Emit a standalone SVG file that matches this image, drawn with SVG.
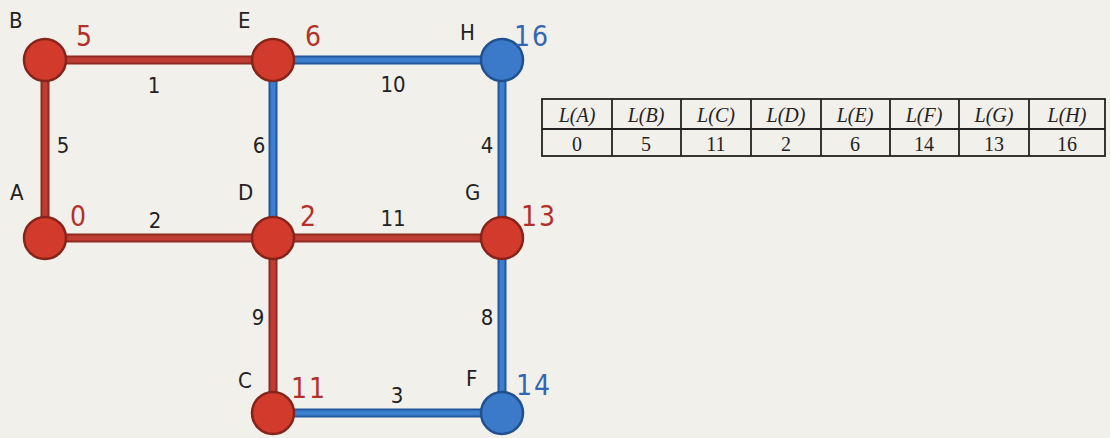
<svg xmlns="http://www.w3.org/2000/svg" width="1110" height="438" viewBox="0 0 1110 438">
<style>
.bg{fill:#f2f0eb}
.er1{stroke:#8e2a22;stroke-width:9;stroke-linecap:butt}
.er2{stroke:#bf3d33;stroke-width:5}
.eb1{stroke:#23579e;stroke-width:9}
.eb2{stroke:#3d7fcf;stroke-width:5}
.nr{fill:#d23a2c;stroke:#86241b;stroke-width:2.5}
.nb{fill:#3b79c9;stroke:#21508f;stroke-width:2.5}
.lbl{font-family:"DejaVu Sans Condensed","Liberation Sans Narrow","DejaVu Sans",sans-serif;font-size:22px;fill:#222}
.w{font-family:"DejaVu Sans Condensed","Liberation Sans Narrow","DejaVu Sans",sans-serif;font-size:22px;fill:#222;text-anchor:middle}
.vr{font-family:"DejaVu Sans Condensed","Liberation Sans Narrow","DejaVu Sans",sans-serif;font-size:28px;fill:#b3302a;letter-spacing:2px}
.vb{font-family:"DejaVu Sans Condensed","Liberation Sans Narrow","DejaVu Sans",sans-serif;font-size:28px;fill:#3266b3;letter-spacing:2px}
.tb{fill:none;stroke:#222;stroke-width:1.8}
.th{font-family:"Liberation Serif",serif;font-style:italic;font-size:20px;fill:#222;text-anchor:middle}
.td{font-family:"Liberation Serif",serif;font-size:20px;fill:#222;text-anchor:middle}
</style>
<rect class="bg" x="0" y="0" width="1110" height="438"/>
<g id="connectors">
<line class="er1" x1="45" y1="60" x2="45" y2="238"/><line class="er2" x1="45" y1="60" x2="45" y2="238"/>
<line class="er1" x1="45" y1="60" x2="273" y2="60"/><line class="er2" x1="45" y1="60" x2="273" y2="60"/>
<line class="er1" x1="45" y1="238" x2="273" y2="238"/><line class="er2" x1="45" y1="238" x2="273" y2="238"/>
<line class="er1" x1="273" y1="238" x2="502" y2="238"/><line class="er2" x1="273" y1="238" x2="502" y2="238"/>
<line class="er1" x1="273" y1="238" x2="273" y2="413"/><line class="er2" x1="273" y1="238" x2="273" y2="413"/>
<line class="eb1" x1="273" y1="60" x2="502" y2="60"/><line class="eb2" x1="273" y1="60" x2="502" y2="60"/>
<line class="eb1" x1="273" y1="60" x2="273" y2="238"/><line class="eb2" x1="273" y1="60" x2="273" y2="238"/>
<line class="eb1" x1="502" y1="60" x2="502" y2="238"/><line class="eb2" x1="502" y1="60" x2="502" y2="238"/>
<line class="eb1" x1="502" y1="238" x2="502" y2="413"/><line class="eb2" x1="502" y1="238" x2="502" y2="413"/>
<line class="eb1" x1="273" y1="413" x2="502" y2="413"/><line class="eb2" x1="273" y1="413" x2="502" y2="413"/>
<text class="w" x="154" y="93">1</text>
<text class="w" x="393" y="92">10</text>
<text class="w" x="63" y="153">5</text>
<text class="w" x="259" y="153">6</text>
<text class="w" x="487" y="153">4</text>
<text class="w" x="155" y="228">2</text>
<text class="w" x="393" y="226">11</text>
<text class="w" x="258" y="325">9</text>
<text class="w" x="487" y="325">8</text>
<text class="w" x="397" y="403">3</text>
</g>
<g id="node-B"><circle class="nr" cx="45" cy="60" r="21"/><text class="lbl" x="9" y="28">B</text><text class="vr" x="76" y="46">5</text></g>
<g id="node-E"><circle class="nr" cx="273" cy="60" r="21"/><text class="lbl" x="238" y="28">E</text><text class="vr" x="305" y="46">6</text></g>
<g id="node-H"><circle class="nb" cx="502" cy="60" r="21"/><text class="lbl" x="460" y="40">H</text><text class="vb" x="514" y="46">16</text></g>
<g id="node-A"><circle class="nr" cx="45" cy="238" r="21"/><text class="lbl" x="10" y="200">A</text><text class="vr" x="70" y="226">0</text></g>
<g id="node-D"><circle class="nr" cx="273" cy="238" r="21"/><text class="lbl" x="238" y="200">D</text><text class="vr" x="300" y="226">2</text></g>
<g id="node-G"><circle class="nr" cx="502" cy="238" r="21"/><text class="lbl" x="465" y="200">G</text><text class="vr" x="521" y="226">13</text></g>
<g id="node-C"><circle class="nr" cx="273" cy="413" r="21"/><text class="lbl" x="238" y="388">C</text><text class="vr" x="291" y="398">11</text></g>
<g id="node-F"><circle class="nb" cx="502" cy="413" r="21"/><text class="lbl" x="466" y="386">F</text><text class="vb" x="516" y="395">14</text></g>
<g id="table">
<rect class="tb" x="542" y="99" width="563" height="57"/>
<line class="tb" x1="542" y1="129" x2="1105" y2="129"/>
<line class="tb" x1="612" y1="99" x2="612" y2="156"/>
<line class="tb" x1="681" y1="99" x2="681" y2="156"/>
<line class="tb" x1="751" y1="99" x2="751" y2="156"/>
<line class="tb" x1="821" y1="99" x2="821" y2="156"/>
<line class="tb" x1="890" y1="99" x2="890" y2="156"/>
<line class="tb" x1="959" y1="99" x2="959" y2="156"/>
<line class="tb" x1="1029" y1="99" x2="1029" y2="156"/>
<text class="th" x="577" y="122">L(A)</text>
<text class="th" x="646" y="122">L(B)</text>
<text class="th" x="716" y="122">L(C)</text>
<text class="th" x="786" y="122">L(D)</text>
<text class="th" x="855" y="122">L(E)</text>
<text class="th" x="924" y="122">L(F)</text>
<text class="th" x="994" y="122">L(G)</text>
<text class="th" x="1067" y="122">L(H)</text>
<text class="td" x="577" y="151">0</text>
<text class="td" x="646" y="151">5</text>
<text class="td" x="716" y="151">11</text>
<text class="td" x="786" y="151">2</text>
<text class="td" x="855" y="151">6</text>
<text class="td" x="924" y="151">14</text>
<text class="td" x="994" y="151">13</text>
<text class="td" x="1067" y="151">16</text>
</g>
</svg>
